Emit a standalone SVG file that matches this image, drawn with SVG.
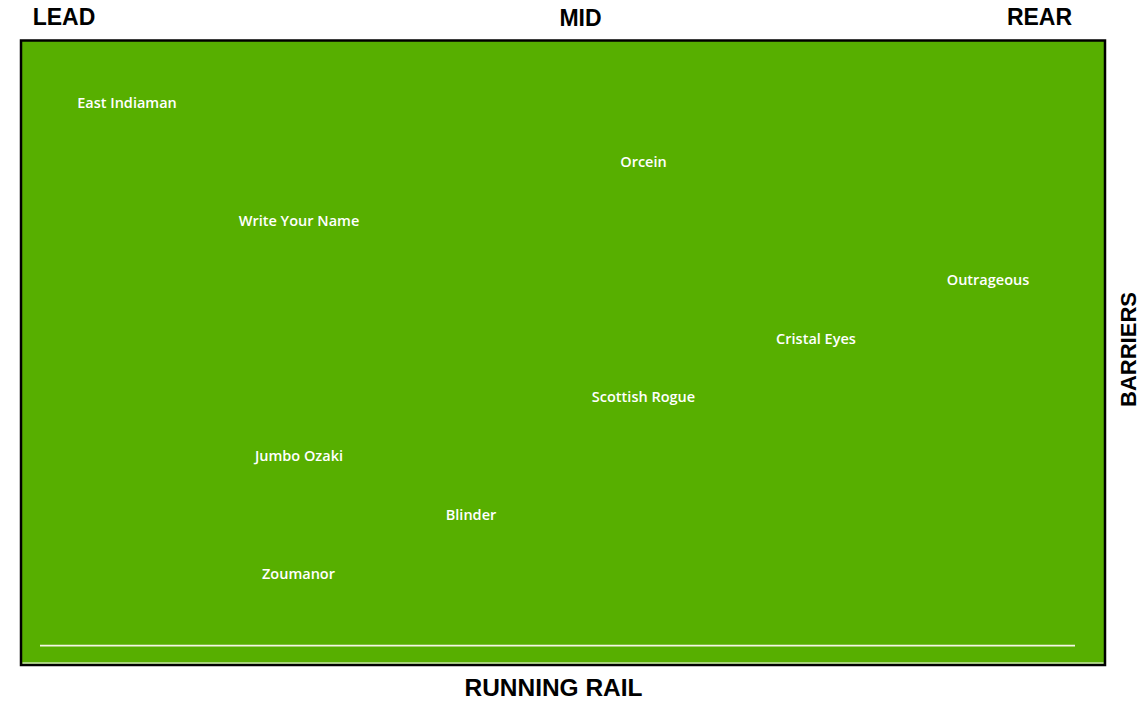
<svg xmlns="http://www.w3.org/2000/svg" width="1147" height="711" viewBox="0 0 1147 711">
<style>
.hdr{font-family:"Liberation Sans",Arial,sans-serif;font-weight:bold;font-size:23px;fill:#000;text-anchor:middle}
.lbl{font-family:"Open Sans","Noto Sans",sans-serif;font-weight:600;font-size:14.5px;fill:#ffffff;text-anchor:middle}
</style>
<rect x="0" y="0" width="1147" height="711" fill="#ffffff"/>
<g id="track">
<rect x="21" y="40.5" width="1084" height="624.5" fill="#57af00" stroke="#000" stroke-width="2.5"/>
<line x1="22.5" y1="663" x2="1103.5" y2="663" stroke="#ffffff" stroke-width="1.2"/>
<line id="rail" x1="40" y1="645.6" x2="1075" y2="645.6" stroke="#f5f5e6" stroke-width="1.6"/>
</g>
<g id="headers">
<text class="hdr" x="64" y="25">LEAD</text>
<text class="hdr" x="580.5" y="25.5">MID</text>
<text class="hdr" x="1039.5" y="25">REAR</text>
<text class="hdr" x="553.5" y="695.5" textLength="178" lengthAdjust="spacingAndGlyphs">RUNNING RAIL</text>
<text class="hdr" transform="translate(1135.5,349.5) rotate(-90)" x="0" y="0" style="font-size:22px">BARRIERS</text>
</g>
<g id="horses">
<g id="east-indiaman"><text class="lbl" x="127" y="108">East Indiaman</text></g>
<g id="orcein"><text class="lbl" x="643.5" y="167">Orcein</text></g>
<g id="write-your-name"><text class="lbl" x="299" y="226">Write Your Name</text></g>
<g id="outrageous"><text class="lbl" x="988" y="285">Outrageous</text></g>
<g id="cristal-eyes"><text class="lbl" x="816" y="343.5">Cristal Eyes</text></g>
<g id="scottish-rogue"><text class="lbl" x="643.5" y="402">Scottish Rogue</text></g>
<g id="jumbo-ozaki"><text class="lbl" x="299" y="461">Jumbo Ozaki</text></g>
<g id="blinder"><text class="lbl" x="471" y="520">Blinder</text></g>
<g id="zoumanor"><text class="lbl" x="298.5" y="579">Zoumanor</text></g>
</g>
<g id="connectors"/>
</svg>
